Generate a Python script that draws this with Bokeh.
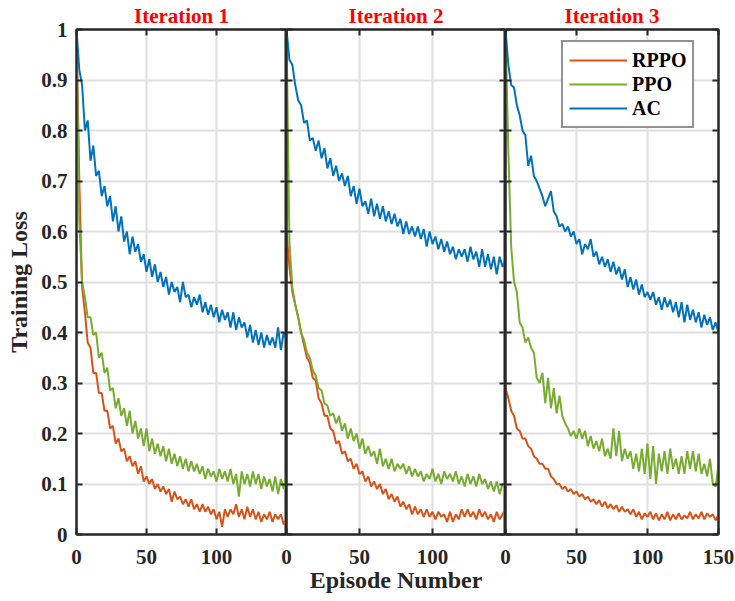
from bokeh.plotting import figure
from bokeh.layouts import row
from bokeh.models import LinearAxis, FixedTicker, Range1d, Legend, LegendItem, CustomLabelingPolicy
from bokeh.embed import file_html
from bokeh.resources import INLINE

# ---------------- data ----------------
episodes = list(range(0, 151, 2))

titles = ["Iteration 1", "Iteration 2", "Iteration 3"]
series_names = ["RPPO", "PPO", "AC"]
series_colors = ["#D95319", "#77AC30", "#0072BD"]

y_ticks = [0, 0.1, 0.2, 0.3, 0.4, 0.5, 0.6, 0.7, 0.8, 0.9, 1]
y_tick_labels = ["0", "0.1", "0.2", "0.3", "0.4", "0.5", "0.6", "0.7", "0.8", "0.9", "1"]
x_ticks_inner = [0, 50, 100]
x_ticks_last = [0, 50, 100, 150]

rppo_1 = [1.00, 0.70, 0.49, 0.44, 0.38, 0.37, 0.32, 0.32, 0.28, 0.28, 0.245, 0.245, 0.21, 0.215, 0.18, 0.19,
          0.165, 0.17, 0.145, 0.155, 0.135, 0.145, 0.12, 0.135, 0.105, 0.115, 0.10, 0.11, 0.09, 0.10, 0.085, 0.095,
          0.08, 0.09, 0.065, 0.085, 0.07, 0.075, 0.06, 0.07, 0.055, 0.07, 0.05, 0.06, 0.045, 0.06, 0.045, 0.055,
          0.04, 0.05, 0.03, 0.045, 0.015, 0.05, 0.035, 0.05, 0.04, 0.06, 0.035, 0.05, 0.03, 0.055, 0.035, 0.05,
          0.03, 0.045, 0.025, 0.04, 0.03, 0.045, 0.025, 0.04, 0.03, 0.04, 0.02, 0.03]
ppo_1 = [1.00, 0.62, 0.50, 0.47, 0.43, 0.43, 0.395, 0.40, 0.35, 0.36, 0.32, 0.33, 0.285, 0.29, 0.25, 0.27,
         0.235, 0.25, 0.215, 0.245, 0.20, 0.225, 0.19, 0.21, 0.175, 0.21, 0.165, 0.19, 0.16, 0.18, 0.155, 0.175,
         0.145, 0.17, 0.14, 0.16, 0.135, 0.155, 0.13, 0.15, 0.125, 0.145, 0.125, 0.14, 0.12, 0.135, 0.11, 0.13,
         0.115, 0.125, 0.105, 0.13, 0.11, 0.125, 0.105, 0.13, 0.10, 0.12, 0.075, 0.125, 0.10, 0.12, 0.095, 0.125,
         0.10, 0.12, 0.09, 0.115, 0.095, 0.11, 0.085, 0.115, 0.08, 0.11, 0.09, 0.12]
ac_1 = [1.00, 0.92, 0.89, 0.80, 0.82, 0.74, 0.77, 0.71, 0.72, 0.67, 0.69, 0.65, 0.67, 0.62, 0.65, 0.60,
        0.63, 0.58, 0.60, 0.555, 0.59, 0.56, 0.575, 0.54, 0.555, 0.52, 0.545, 0.51, 0.535, 0.50, 0.52, 0.49,
        0.51, 0.475, 0.50, 0.48, 0.49, 0.46, 0.50, 0.47, 0.475, 0.45, 0.47, 0.455, 0.475, 0.44, 0.46, 0.435,
        0.455, 0.43, 0.45, 0.42, 0.445, 0.425, 0.44, 0.41, 0.44, 0.405, 0.43, 0.41, 0.42, 0.39, 0.415, 0.38,
        0.405, 0.375, 0.40, 0.37, 0.395, 0.375, 0.39, 0.37, 0.41, 0.365, 0.40, 0.385]

rppo_2 = [0.60, 0.53, 0.48, 0.455, 0.43, 0.40, 0.375, 0.35, 0.34, 0.31, 0.305, 0.27, 0.26, 0.235, 0.235, 0.21,
          0.205, 0.18, 0.185, 0.16, 0.165, 0.145, 0.15, 0.13, 0.14, 0.12, 0.125, 0.105, 0.115, 0.095, 0.105, 0.09,
          0.10, 0.08, 0.09, 0.07, 0.08, 0.065, 0.075, 0.055, 0.065, 0.05, 0.06, 0.04, 0.055, 0.04, 0.05, 0.035,
          0.05, 0.035, 0.045, 0.03, 0.045, 0.035, 0.04, 0.025, 0.045, 0.025, 0.04, 0.03, 0.05, 0.035, 0.05, 0.035,
          0.045, 0.03, 0.05, 0.035, 0.045, 0.03, 0.04, 0.025, 0.045, 0.03, 0.04, 0.05]
ppo_2 = [1.00, 0.58, 0.49, 0.455, 0.43, 0.40, 0.385, 0.36, 0.35, 0.325, 0.315, 0.29, 0.285, 0.26, 0.255, 0.235,
         0.24, 0.22, 0.235, 0.205, 0.22, 0.19, 0.21, 0.185, 0.20, 0.17, 0.19, 0.16, 0.175, 0.155, 0.165, 0.14,
         0.17, 0.135, 0.15, 0.13, 0.15, 0.125, 0.14, 0.13, 0.14, 0.12, 0.135, 0.115, 0.13, 0.115, 0.125, 0.105,
         0.12, 0.11, 0.13, 0.105, 0.12, 0.10, 0.125, 0.11, 0.12, 0.105, 0.125, 0.10, 0.115, 0.095, 0.12, 0.10,
         0.115, 0.095, 0.12, 0.10, 0.11, 0.09, 0.105, 0.085, 0.105, 0.08, 0.10, 0.10]
ac_2 = [1.00, 0.94, 0.93, 0.89, 0.86, 0.85, 0.815, 0.82, 0.78, 0.785, 0.76, 0.78, 0.745, 0.765, 0.725, 0.745,
        0.71, 0.73, 0.70, 0.715, 0.69, 0.71, 0.67, 0.69, 0.655, 0.685, 0.65, 0.66, 0.635, 0.665, 0.63, 0.655,
        0.625, 0.65, 0.62, 0.64, 0.615, 0.635, 0.61, 0.625, 0.595, 0.62, 0.595, 0.61, 0.59, 0.61, 0.585, 0.605,
        0.57, 0.60, 0.575, 0.59, 0.565, 0.585, 0.56, 0.58, 0.555, 0.57, 0.545, 0.565, 0.55, 0.565, 0.54, 0.57,
        0.545, 0.56, 0.53, 0.565, 0.53, 0.555, 0.525, 0.55, 0.515, 0.55, 0.53, 0.545]

rppo_3 = [0.29, 0.27, 0.245, 0.235, 0.21, 0.205, 0.19, 0.19, 0.175, 0.17, 0.155, 0.15, 0.14, 0.14, 0.13, 0.13,
          0.115, 0.11, 0.10, 0.10, 0.09, 0.095, 0.085, 0.09, 0.08, 0.085, 0.075, 0.08, 0.07, 0.075, 0.065, 0.07,
          0.06, 0.068, 0.055, 0.065, 0.052, 0.06, 0.05, 0.058, 0.045, 0.055, 0.045, 0.05, 0.04, 0.05, 0.035, 0.045,
          0.03, 0.042, 0.035, 0.045, 0.03, 0.042, 0.028, 0.04, 0.03, 0.045, 0.028, 0.04, 0.03, 0.042, 0.03, 0.038,
          0.032, 0.045, 0.03, 0.04, 0.032, 0.045, 0.03, 0.042, 0.035, 0.04, 0.028, 0.04]
ppo_3 = [1.00, 0.76, 0.57, 0.50, 0.48, 0.42, 0.41, 0.38, 0.39, 0.37, 0.36, 0.31, 0.30, 0.32, 0.26, 0.31,
         0.25, 0.29, 0.24, 0.275, 0.235, 0.22, 0.21, 0.195, 0.205, 0.19, 0.21, 0.19, 0.205, 0.175, 0.195, 0.17,
         0.185, 0.165, 0.19, 0.155, 0.17, 0.15, 0.21, 0.155, 0.205, 0.145, 0.17, 0.15, 0.165, 0.13, 0.16, 0.125,
         0.17, 0.12, 0.18, 0.11, 0.175, 0.10, 0.16, 0.125, 0.165, 0.12, 0.17, 0.13, 0.15, 0.12, 0.155, 0.12,
         0.165, 0.13, 0.165, 0.125, 0.16, 0.12, 0.14, 0.115, 0.15, 0.10, 0.095, 0.14]
ac_3 = [1.00, 0.93, 0.89, 0.885, 0.85, 0.83, 0.80, 0.79, 0.73, 0.75, 0.71, 0.70, 0.685, 0.67, 0.65, 0.665,
        0.68, 0.64, 0.63, 0.61, 0.615, 0.60, 0.61, 0.59, 0.60, 0.575, 0.585, 0.555, 0.575, 0.565, 0.585, 0.55,
        0.56, 0.535, 0.55, 0.53, 0.545, 0.52, 0.54, 0.515, 0.53, 0.505, 0.525, 0.49, 0.51, 0.485, 0.505, 0.475,
        0.495, 0.47, 0.48, 0.465, 0.48, 0.455, 0.47, 0.445, 0.47, 0.45, 0.465, 0.44, 0.46, 0.43, 0.46, 0.42,
        0.455, 0.425, 0.445, 0.42, 0.44, 0.41, 0.435, 0.415, 0.43, 0.405, 0.42, 0.40]

panels_data = [
    [rppo_1, ppo_1, ac_1],
    [rppo_2, ppo_2, ac_2],
    [rppo_3, ppo_3, ac_3],
]

# ---------------- styling ----------------
FONT = "Liberation Serif"
INK = "#262626"
frame_widths = [210, 219, 213]
border_left = [76, 10, 10]
border_right = [0, 0, 17]
margins = [(0, 0, 0, 0), (0, 0, 0, -10), (0, 0, 0, -10)]

HIDE_ALL = "for (const i of Array.from(indices)) { indices.unset(i) }"


def style_axis(ax, ticks, show_labels, standoff=9):
    ax.ticker = FixedTicker(ticks=ticks)
    ax.axis_line_color = INK
    ax.axis_line_width = 2
    ax.major_tick_line_color = INK
    ax.major_tick_line_width = 2
    ax.major_tick_in = 6
    ax.major_tick_out = 0
    ax.minor_tick_line_color = None
    ax.major_label_text_font = FONT
    ax.major_label_text_font_style = "bold"
    ax.major_label_text_color = INK
    if show_labels:
        ax.major_label_text_font_size = "21px"
        ax.major_label_standoff = standoff
    else:
        ax.major_label_text_font_size = "0px"
        ax.major_label_standoff = 0
        ax.major_label_policy = CustomLabelingPolicy(code=HIDE_ALL)


figs = []
for i in range(3):
    p = figure(
        output_backend="svg", toolbar_location=None,
        frame_width=frame_widths[i], frame_height=505,
        min_border_left=border_left[i], min_border_right=border_right[i],
        min_border_top=29, min_border_bottom=67,
        x_range=Range1d(0, 150), y_range=Range1d(0, 1),
        x_axis_location=None, y_axis_location=None,
        margin=margins[i],
    )
    p.border_fill_color = None if i > 0 else "white"
    p.background_fill_color = "white"
    p.outline_line_color = INK
    p.outline_line_width = 2

    xt = x_ticks_last if i == 2 else x_ticks_inner
    bottom = LinearAxis()
    style_axis(bottom, xt, True, standoff=15)
    top = LinearAxis()
    style_axis(top, xt, False)
    left = LinearAxis()
    style_axis(left, y_ticks, i == 0, standoff=9)
    right = LinearAxis()
    style_axis(right, y_ticks, False)
    if i == 0:
        left.major_label_overrides = {t: s for t, s in zip(y_ticks, y_tick_labels)}
        left.axis_label = "Training Loss"
        left.axis_label_text_font = FONT
        left.axis_label_text_font_style = "bold"
        left.axis_label_text_font_size = "24px"
        left.axis_label_text_color = INK
        left.axis_label_standoff = 6
    if i == 1:
        bottom.axis_label = "Episode Number"
        bottom.axis_label_text_font = FONT
        bottom.axis_label_text_font_style = "bold"
        bottom.axis_label_text_font_size = "24px"
        bottom.axis_label_text_color = INK
        bottom.axis_label_standoff = 0
    p.add_layout(bottom, "below")
    p.add_layout(top, "above")
    p.add_layout(left, "left")
    p.add_layout(right, "right")

    p.xgrid.ticker = FixedTicker(ticks=[50, 100])
    p.ygrid.ticker = FixedTicker(ticks=y_ticks)
    p.grid.grid_line_color = "#dfdfdf"
    p.grid.grid_line_width = 2

    p.title.text = titles[i]
    p.title.align = "center"
    p.title.text_color = "#FF0000"
    p.title.text_font = FONT
    p.title.text_font_style = "bold"
    p.title.text_font_size = "21px"
    p.title.standoff = 3

    renderers = []
    for vals, color in zip(panels_data[i], series_colors):
        r = p.line(episodes, vals, line_color=color, line_width=2)
        renderers.append(r)

    if i == 2:
        legend = Legend(
            items=[LegendItem(label=n, renderers=[r]) for n, r in zip(series_names, renderers)],
            location=(56, 406),
            label_text_font=FONT, label_text_font_style="bold",
            label_text_font_size="20px", label_text_color="black",
            glyph_width=58, glyph_height=24, label_height=24,
            label_standoff=5, spacing=0, padding=6,
            border_line_color=INK, border_line_width=2,
            background_fill_color="white", background_fill_alpha=1,
        )
        p.add_layout(legend, "center")
    figs.append(p)

layout = row(*figs)
open("out.html", "w").write(file_html(layout, INLINE))
